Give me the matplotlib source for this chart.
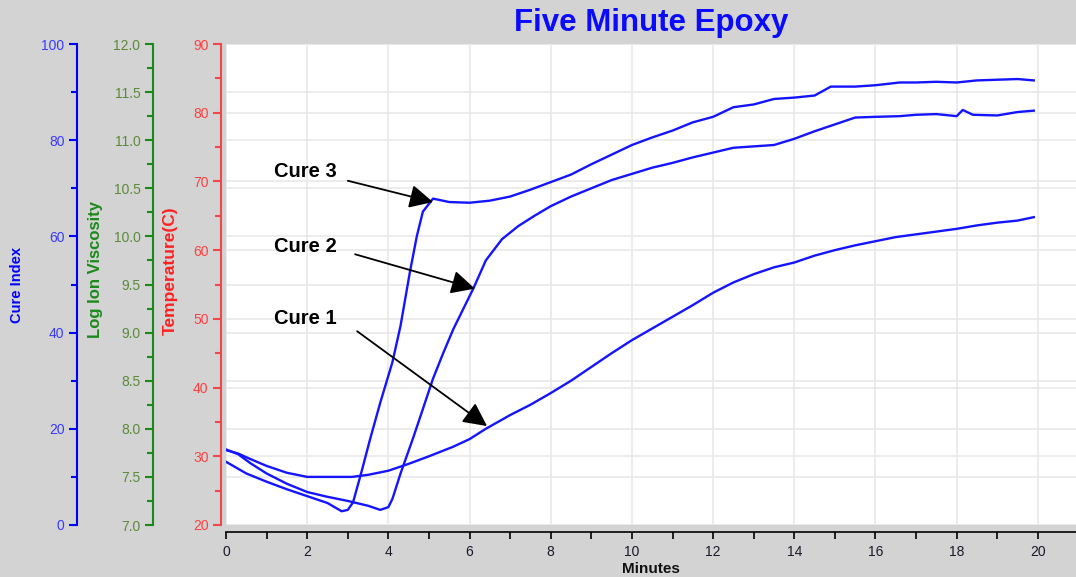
import matplotlib
matplotlib.use("Agg")
import matplotlib.pyplot as plt
from matplotlib.ticker import MultipleLocator, FuncFormatter

plt.rcParams['font.family'] = ['Liberation Sans', 'DejaVu Sans']

# --- data: temperature (C) vs time (minutes) for three cures ---
cure1_t = [0, 0.3, 0.6, 1.0, 1.5, 2.0, 2.5, 3.1, 3.5, 4.0, 4.5, 5.0, 5.6, 6.0, 6.4,
           7.0, 7.5, 8.0, 8.5, 9.0, 9.5, 10.0, 10.5, 11.0, 11.5, 12.0, 12.5, 13.0,
           13.5, 14.0, 14.5, 15.0, 15.5, 16.0, 16.5, 17.0, 17.5, 18.0, 18.5, 19.0,
           19.5, 19.9]
cure1_temp = [30.9, 30.4, 29.6, 28.6, 27.6, 27.0, 27.0, 27.0, 27.3, 27.9, 28.9, 30.0,
              31.4, 32.5, 34.0, 36.0, 37.5, 39.2, 41.0, 43.0, 45.0, 46.9, 48.6, 50.3,
              52.0, 53.8, 55.3, 56.5, 57.5, 58.2, 59.2, 60.0, 60.7, 61.3, 61.9, 62.3,
              62.7, 63.1, 63.6, 64.0, 64.3, 64.8]

cure2_t = [0, 0.3, 0.6, 1.0, 1.5, 2.0, 2.5, 3.0, 3.5, 3.8, 4.0, 4.1, 4.3, 4.45, 4.6,
           4.8, 5.1, 5.35, 5.6, 5.85, 6.1, 6.4, 6.8, 7.2, 7.6, 8.0, 8.5, 9.0, 9.5,
           10.0, 10.5, 11.0, 11.5, 12.0, 12.5, 13.0, 13.5, 14.0, 14.5, 15.0, 15.5,
           16.0, 16.6, 17.0, 17.5, 18.0, 18.15, 18.4, 19.0, 19.5, 19.9]
cure2_temp = [31.0, 30.3, 29.0, 27.5, 26.0, 24.8, 24.1, 23.5, 22.8, 22.2, 22.6, 23.8,
              27.5, 30.0, 32.5, 36.0, 41.3, 45.0, 48.5, 51.5, 54.5, 58.5, 61.6, 63.5,
              65.0, 66.4, 67.8, 69.0, 70.2, 71.1, 72.0, 72.7, 73.5, 74.2, 74.9, 75.1,
              75.3, 76.2, 77.3, 78.3, 79.3, 79.4, 79.5, 79.7, 79.8, 79.5, 80.4, 79.7,
              79.6, 80.1, 80.3]

cure3_t = [0, 0.5, 1.0, 1.5, 2.0, 2.5, 2.85, 3.0, 3.13, 3.35, 3.55, 3.8, 4.1, 4.3,
           4.53, 4.7, 4.85, 5.1, 5.5, 6.0, 6.5, 7.0, 7.5, 8.0, 8.5, 9.0, 9.5, 10.0,
           10.5, 11.0, 11.5, 12.0, 12.5, 13.0, 13.5, 14.0, 14.5, 14.9, 15.5, 16.0,
           16.6, 17.0, 17.5, 18.0, 18.5, 19.0, 19.5, 19.9]
cure3_temp = [29.2, 27.5, 26.3, 25.2, 24.2, 23.2, 22.0, 22.2, 23.3, 28.0, 32.5, 37.8,
              43.7, 49.0, 56.8, 62.0, 65.6, 67.5, 67.0, 66.9, 67.2, 67.8, 68.8, 69.9,
              71.0, 72.5, 73.9, 75.3, 76.4, 77.4, 78.6, 79.4, 80.8, 81.2, 82.0, 82.2,
              82.5, 83.8, 83.8, 84.0, 84.4, 84.4, 84.5, 84.4, 84.7, 84.8, 84.9, 84.7]

# annotation labels: (text, label position, arrow start, arrow tip)
labels = ["Cure 3", "Cure 2", "Cure 1"]
label_xy = [(1.95, 71.4), (1.95, 60.5), (1.95, 50.0)]
arrow_from = [(3.0, 70.1), (3.18, 59.4), (3.23, 48.2)]
arrow_to = [(5.1, 67.0), (6.13, 54.4), (6.43, 34.4)]

# --- styling ---
BG = '#d3d3d3'
LINE = '#1414ff'
W, H = 1076, 577
PT = 72 / 100  # points per pixel at dpi 100

fig = plt.figure(figsize=(W / 100, H / 100), dpi=100, facecolor=BG)
rect = [226 / W, 1 - 525 / H, 850 / W, 481 / H]

ax = fig.add_axes(rect)             # temperature (red) + minutes; carries the curves
ax_ci = ax.twinx()                  # cure index (blue), bottom layer with white patch
ax_vis = ax.twinx()                 # log ion viscosity (green)

ax_ci.set_zorder(1)
ax_vis.set_zorder(2)
ax.set_zorder(3)
ax_ci.patch.set_visible(True)
ax_ci.patch.set_facecolor('white')
ax_vis.patch.set_visible(False)
ax.patch.set_visible(False)

axis_specs = [
    (ax_ci, (0, 100), 20, 10, '{:.0f}', '#0000ff', '#3a3aff', 149),
    (ax_vis, (7.0, 12.0), 0.5, 0.25, '{:.1f}', '#1a8a1a', '#5a8a3a', 73),
    (ax, (20, 90), 10, 5, '{:.0f}', '#f04848', '#ff4040', 5),
]
for a, lim, major, minor, fmt, spine_c, label_c, offset in axis_specs:
    a.set_ylim(*lim)
    for s in a.spines.values():
        s.set_visible(False)
    a.spines['left'].set_visible(True)
    a.spines['left'].set_position(('outward', offset * PT))
    a.spines['left'].set_color(spine_c)
    a.spines['left'].set_linewidth(1.5)
    a.yaxis.set_ticks_position('left')
    a.yaxis.set_label_position('left')
    a.yaxis.set_major_locator(MultipleLocator(major))
    a.yaxis.set_minor_locator(MultipleLocator(minor))
    a.yaxis.set_major_formatter(FuncFormatter(lambda v, p, f=fmt: f.format(v)))
    a.tick_params(axis='y', which='major', direction='out', length=6, width=1.5,
                  color=spine_c, labelcolor=label_c, labelsize=10, pad=3)
    a.tick_params(axis='y', which='minor', direction='out', length=4.5, width=1.5,
                  color=spine_c)

# x axis on the temperature axes, pushed a little below the plot
ax.set_xlim(0, 20.94)
ax.spines['bottom'].set_visible(True)
ax.spines['bottom'].set_position(('outward', 7 * PT))
ax.spines['bottom'].set_color('black')
ax.spines['bottom'].set_linewidth(1.2)
ax.xaxis.set_ticks_position('bottom')
ax.xaxis.set_major_locator(MultipleLocator(2))
ax.xaxis.set_minor_locator(MultipleLocator(1))
ax.tick_params(axis='x', which='both', direction='out', length=5, width=1.2,
               color='black', labelcolor='#1a1a2a', labelsize=10, pad=4)

# grid: vertical minutes, horizontal temperature and viscosity
GRID = '#e9e9e9'
ax.grid(axis='x', which='major', color=GRID, lw=1.2)
ax.grid(axis='y', which='major', color=GRID, lw=1.2)
ax_vis.grid(axis='y', which='major', color=GRID, lw=1.2)
ax.set_axisbelow(True)

# curves
for t, temp in [(cure1_t, cure1_temp), (cure2_t, cure2_temp), (cure3_t, cure3_temp)]:
    ax.plot(t, temp, color=LINE, lw=1.7, solid_joinstyle='round', zorder=5)

# callouts
for txt, lxy, a_from, a_to in zip(labels, label_xy, arrow_from, arrow_to):
    ax.text(lxy[0], lxy[1], txt, fontsize=14.5, fontweight='bold', color='black',
            ha='center', va='center', zorder=6)
    ax.annotate('', xy=a_to, xytext=a_from,
                arrowprops=dict(arrowstyle='-|>,head_length=0.6,head_width=0.3',
                                color='black', lw=1.3, mutation_scale=24,
                                shrinkA=0, shrinkB=0),
                zorder=6)


def fx(px):
    return px / W


def fy(py):
    return 1 - py / H


# titles and axis labels
fig.text(fx(651), fy(23), 'Five Minute Epoxy', fontsize=22.5, fontweight='bold',
         color='#0a0aff', ha='center', va='center')
fig.text(fx(651), fy(569), 'Minutes', fontsize=11, fontweight='bold',
         color='#111111', ha='center', va='center')
fig.text(fx(17), fy(285), 'Cure Index', fontsize=10.5, fontweight='bold',
         color='#0000ff', rotation=90, ha='center', va='center')
fig.text(fx(95), fy(270), 'Log Ion Viscosity', fontsize=12, fontweight='bold',
         color='#1a8a1a', rotation=90, ha='center', va='center')
fig.text(fx(170), fy(271), 'Temperature(C)', fontsize=12.5, fontweight='bold',
         color='#ff2020', rotation=90, ha='center', va='center')

fig.savefig('out.png', dpi=100, facecolor=BG)
